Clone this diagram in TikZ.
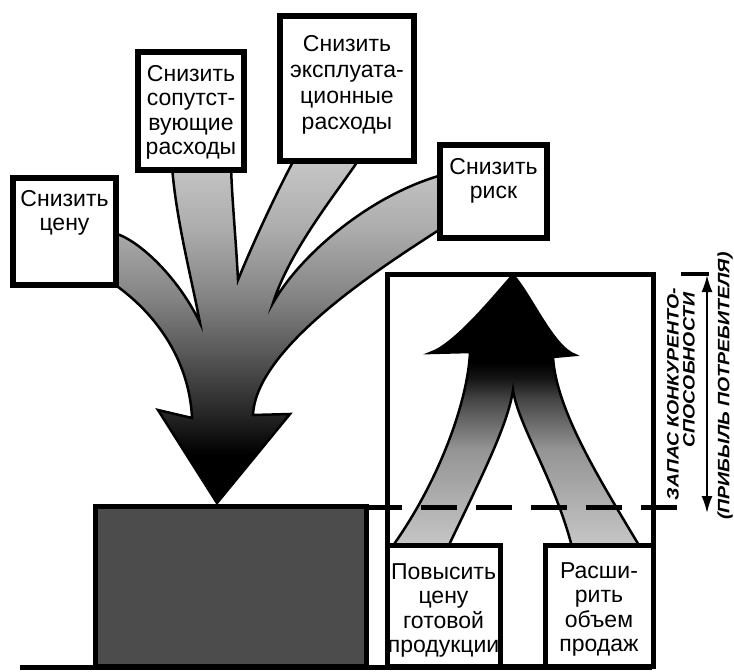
\documentclass[tikz,border=0pt]{standalone}
\usepackage{fontspec}
\setmainfont{Liberation Sans}
\usetikzlibrary{arrows.meta}
\pgfdeclareverticalshading{downshade}{100bp}{color(0bp)=(black); color(25bp)=(black); color(32bp)=(black); color(38bp)=(black!85); color(47bp)=(black!65); color(55bp)=(black!48); color(65bp)=(black!32); color(75bp)=(black!22); color(100bp)=(black!22)}
\pgfdeclareverticalshading{upshade}{100bp}{color(0bp)=(black!22); color(25bp)=(black!22); color(43bp)=(black!42); color(52bp)=(black!72); color(56bp)=(black!92); color(59bp)=(black); color(100bp)=(black)}
\tikzset{
  tbox/.style={draw=black, line width=6pt, fill=white, rectangle, inner sep=0pt, outer sep=0pt, anchor=north west},
  pbox/.style={draw=black, line width=5pt, fill=white, rectangle, inner sep=0pt, outer sep=0pt, anchor=north west},
  btxt/.style={font=\fontsize{23}{24.5}\selectfont, align=center, inner sep=0pt, anchor=north},
  vtxt/.style={font=\fontsize{16.5}{16.5}\selectfont\bfseries\itshape, inner sep=0pt, rotate=90},
  band/.style={draw=black, line width=2.5pt},
}
\begin{document}
\begin{tikzpicture}[x=1pt,y=-1pt]
\useasboundingbox (0,0) rectangle (734,672);

% converging down arrow
\shadedraw[shading=downshade, band] (217,503) -- (158,410) -- (192,418)
 .. controls (190,370) and (165,320) .. (114,284)
 -- (114,233)
 .. controls (140,240) and (180,280) .. (200,323)
 .. controls (192,280) and (176,220) .. (172,166)
 -- (231,166)
 .. controls (232,200) and (236,240) .. (238,280)
 .. controls (250,250) and (275,195) .. (295,158)
 -- (360,158)
 .. controls (335,195) and (290,250) .. (273,303)
 .. controls (300,255) and (370,195) .. (442,175)
 -- (442,228)
 .. controls (390,262) and (256,345) .. (253,415)
 -- (290,414) -- cycle;

% top boxes
\node[tbox, minimum width=103pt, minimum height=107pt] (b1) at (13,178) {};
\node[tbox, minimum width=106pt, minimum height=118pt] (b2) at (138,52) {};
\node[tbox, minimum width=134pt, minimum height=145pt] (b3) at (280,16) {};
\node[tbox, line width=5.5pt, minimum width=107pt, minimum height=93pt] (b4) at (440,145) {};
\node[btxt] (t1) at (64.5,190) {Снизить\\цену};
\node[btxt] (t2) at (191,65) {Снизить\\сопутст-\\вующие\\расходы};
\node[btxt, font=\fontsize{23}{26}\selectfont] (t3) at (347,35) {Снизить\\эксплуата-\\ционные\\расходы};
\node[btxt] (t4) at (493.5,158) {Снизить\\риск};

% tall box
\node[pbox, fill=none, minimum width=266pt, minimum height=392pt] (tall) at (387,274) {};

% rising arrow
\shadedraw[shading=upshade, band] (513,275)
 .. controls (495,295) and (455,345) .. (430,353)
 -- (470,352)
 .. controls (468,400) and (440,480) .. (392,547)
 -- (448,547)
 .. controls (480,480) and (508,425) .. (513,390)
 .. controls (518,425) and (555,480) .. (572,547)
 -- (640,547)
 .. controls (600,480) and (556,410) .. (553,357)
 -- (575,355)
 .. controls (553,347) and (531,295) .. (513,275) -- cycle;

% bottom boxes
\node[pbox, minimum width=113pt, minimum height=121pt] (inc) at (387,545) {};
\node[pbox, minimum width=108pt, minimum height=121pt] (exp) at (545,545) {};
\node[btxt] (t5) at (443.5,563) {Повысить\\цену\\готовой\\продукции};
\node[btxt] (t6) at (599,562) {Расши-\\рить\\объем\\продаж};

% dark block
\node[pbox, fill=black!70, minimum width=271pt, minimum height=160pt] (dark) at (95,506) {};

% base line
\coordinate (baseL) at (20,667);
\coordinate (baseR) at (652,667);
\draw[line width=5pt] (baseL) -- (baseR);

% dashed level line
\coordinate (dl) at (366,507);
\coordinate (dr) at (680,507);
\draw[line width=5pt, dash pattern=on 36pt off 19pt] (dl) -- (dr);

% right annotation
\coordinate (brL) at (681,274);
\coordinate (brR) at (709,274);
\draw[line width=3.5pt] (brL) -- (brR);
\coordinate (qt) at (707,275);
\coordinate (qb) at (707,513);
\draw[line width=2pt, {Latex[length=17pt,width=11pt]}-{Latex[length=17pt,width=11pt]}] (qt) -- (qb);
\node[vtxt] (z1) at (673,394) {\scalebox{1.18}[1]{ЗАПАС КОНКУРЕНТО-}};
\node[vtxt] (z2) at (689,370) {\scalebox{1.18}[1]{СПОСОБНОСТИ}};
\node[vtxt] (z3) at (725,386) {\scalebox{1.18}[1]{(ПРИБЫЛЬ ПОТРЕБИТЕЛЯ)}};
\end{tikzpicture}
\end{document}
